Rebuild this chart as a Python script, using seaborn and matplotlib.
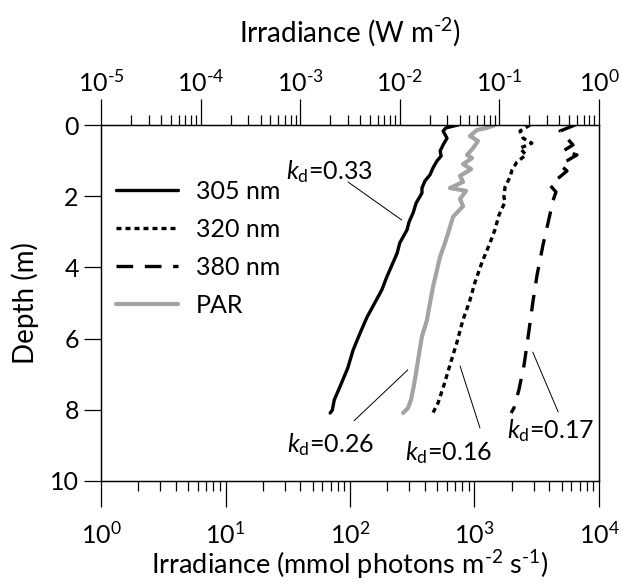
import numpy as np
import pandas as pd
import matplotlib
matplotlib.use("Agg")
import matplotlib.pyplot as plt
from matplotlib.lines import Line2D
from matplotlib.ticker import FuncFormatter
import seaborn as sns

# depth profiles
# UV bands in W m-2 (top axis), PAR in mmol photons m-2 s-1 (bottom axis)
depth_305 = [0.00, 0.08, 0.17, 0.37, 0.56, 0.73, 0.87, 1.01, 1.21, 1.40, 1.57, 1.77, 1.91, 2.19, 2.47,
             2.72, 2.95, 3.31, 3.60, 3.85, 4.27, 4.63, 5.00, 5.39, 5.84, 6.32, 6.83, 7.36, 7.72, 8.01, 8.09]
irr_305 = [0.0384, 0.0291, 0.0272, 0.0298, 0.0272, 0.0254, 0.0260, 0.0236, 0.0215, 0.0201, 0.0179, 0.0167,
           0.0167, 0.0146, 0.0136, 0.0124, 0.0118, 0.0100, 0.0094, 0.0086, 0.0074, 0.0066, 0.0056, 0.0047,
           0.0040, 0.0034, 0.0030, 0.0025, 0.0022, 0.0021, 0.0020]

depth_320 = [0.00, 0.17, 0.37, 0.51, 0.65, 0.84, 1.04, 1.26, 1.46, 1.74, 2.02, 2.16, 2.53, 2.95, 3.37,
             3.85, 4.41, 4.97, 5.48, 6.10, 6.74, 7.30, 7.81, 8.09]
irr_320 = [0.203, 0.161, 0.173, 0.212, 0.161, 0.185, 0.150, 0.134, 0.128, 0.114, 0.111, 0.114, 0.099,
           0.090, 0.079, 0.067, 0.057, 0.050, 0.043, 0.0375, 0.0319, 0.0278, 0.0242, 0.0215]

depth_380 = [0.00, 0.17, 0.37, 0.56, 0.73, 0.84, 1.12, 1.29, 1.69, 1.88, 2.13, 2.75, 3.37, 4.21, 4.97,
             5.96, 6.74, 7.44, 7.95, 8.09]
irr_380 = [0.574, 0.406, 0.477, 0.548, 0.436, 0.601, 0.406, 0.477, 0.322, 0.370, 0.345, 0.308, 0.274,
           0.239, 0.217, 0.194, 0.177, 0.157, 0.140, 0.131]

depth_par = [0.00, 0.08, 0.14, 0.31, 0.45, 0.65, 0.84, 0.93, 1.10, 1.24, 1.43, 1.60, 1.77, 1.85, 2.08,
             2.28, 2.58, 2.87, 3.31, 3.71, 4.07, 4.55, 5.00, 5.48, 5.93, 6.26, 6.80, 7.30, 7.72, 7.95, 8.09]
irr_par = [1462, 1260, 1047, 920, 1067, 973, 871, 955, 809, 940, 765, 809, 635, 855, 765, 809, 672, 635,
           580, 528, 500, 464, 439, 415, 379, 365, 345, 327, 309, 292, 267]

kd_labels = ["0.33", "0.26", "0.16", "0.17"]
legend_labels = ['305 nm', '320 nm', '380 nm', 'PAR']

sns.set_style("ticks")
plt.rcParams['font.family'] = ['Lato', 'DejaVu Sans']
plt.rcParams['mathtext.fontset'] = 'custom'
plt.rcParams['mathtext.rm'] = 'Lato'
plt.rcParams['mathtext.it'] = 'Lato:italic'
plt.rcParams['mathtext.default'] = 'regular'
plt.rcParams['axes.edgecolor'] = 'black'
plt.rcParams['xtick.color'] = 'black'
plt.rcParams['ytick.color'] = 'black'
plt.rcParams['text.color'] = 'black'
plt.rcParams['axes.labelcolor'] = 'black'

fig = plt.figure(figsize=(6.22, 5.88), dpi=100)
ax = fig.add_axes([0.1624, 0.182, 0.8006, 0.6054])
ax_top = ax.twiny()

gray = '#a3a3a3'
dotted = (0, (1.5, 1.2))
dashed = (0, (5, 3.5))
sns.lineplot(x=irr_par, y=depth_par, ax=ax, sort=False, estimator=None, color=gray, lw=3.0)
sns.lineplot(x=irr_305, y=depth_305, ax=ax_top, sort=False, estimator=None, color='black', lw=2.4)
sns.lineplot(x=irr_320, y=depth_320, ax=ax_top, sort=False, estimator=None, color='black', lw=2.4,
             linestyle=dotted)
sns.lineplot(x=irr_380, y=depth_380, ax=ax_top, sort=False, estimator=None, color='black', lw=2.4,
             linestyle=dashed)

ax.set_xscale('log')
ax.set_xlim(1, 1e4)
ax_top.set_xscale('log')
ax_top.set_xlim(1e-5, 1)
ax.set_ylim(10, 0)
ax.set_yticks([0, 2, 4, 6, 8, 10])


def pow10(v, pos):
    e = int(round(np.log10(v)))
    if e < 0:
        return r'$10^{\text{-}%d}$' % (-e)
    return r'$10^{%d}$' % e


ax.xaxis.set_major_formatter(FuncFormatter(pow10))
ax_top.xaxis.set_major_formatter(FuncFormatter(pow10))

for a in (ax, ax_top):
    for s in a.spines.values():
        s.set_linewidth(0.9)
        s.set_color('black')

ax.tick_params(axis='x', which='major', direction='out', length=19, width=0.9, labelsize=18, pad=10)
ax.tick_params(axis='x', which='minor', direction='out', length=7, width=0.9)
ax_top.tick_params(axis='x', which='major', direction='out', length=19, width=0.9, labelsize=18, pad=2)
ax_top.tick_params(axis='x', which='minor', direction='out', length=7, width=0.9)
ax.tick_params(axis='y', which='major', direction='out', length=12, width=0.9, labelsize=18, pad=4)

ax.set_xlabel(r'Irradiance (mmol photons m$^{\text{-}2}$ s$^{\text{-}1}$)', fontsize=19.5, labelpad=0)
ax_top.set_xlabel(r'Irradiance (W m$^{\text{-}2}$)', fontsize=20, labelpad=20)
ax.set_ylabel('Depth (m)', fontsize=20, labelpad=8)

handles = [Line2D([], [], color='black', lw=2.4),
           Line2D([], [], color='black', lw=2.4, linestyle=dotted),
           Line2D([], [], color='black', lw=2.4, linestyle=dashed),
           Line2D([], [], color=gray, lw=3.0)]
ax_top.legend(handles, legend_labels, loc='upper left',
              bbox_to_anchor=(0.01, 0.875), frameon=False, fontsize=18, handlelength=2.5,
              handletextpad=0.7, labelspacing=0.6, borderaxespad=0)

# k_d labels with leader lines (axes fraction)
label_pos = [(0.458, 0.868), (0.462, 0.101), (0.697, 0.081), (0.902, 0.143)]
leaders = [((0.496, 0.840), (0.604, 0.733)),
           ((0.508, 0.169), (0.616, 0.312)),
           ((0.761, 0.149), (0.721, 0.323)),
           ((0.918, 0.194), (0.867, 0.362))]
for lab, (tx, ty), (p0, p1) in zip(kd_labels, label_pos, leaders):
    ax_top.text(tx, ty, r'$\mathit{k}_{d}$=' + lab, transform=ax_top.transAxes,
                ha='center', va='center', fontsize=18)
    ax_top.plot([p0[0], p1[0]], [p0[1], p1[1]], transform=ax_top.transAxes, color='black', lw=0.7)

fig.savefig('out.png', dpi=100)
